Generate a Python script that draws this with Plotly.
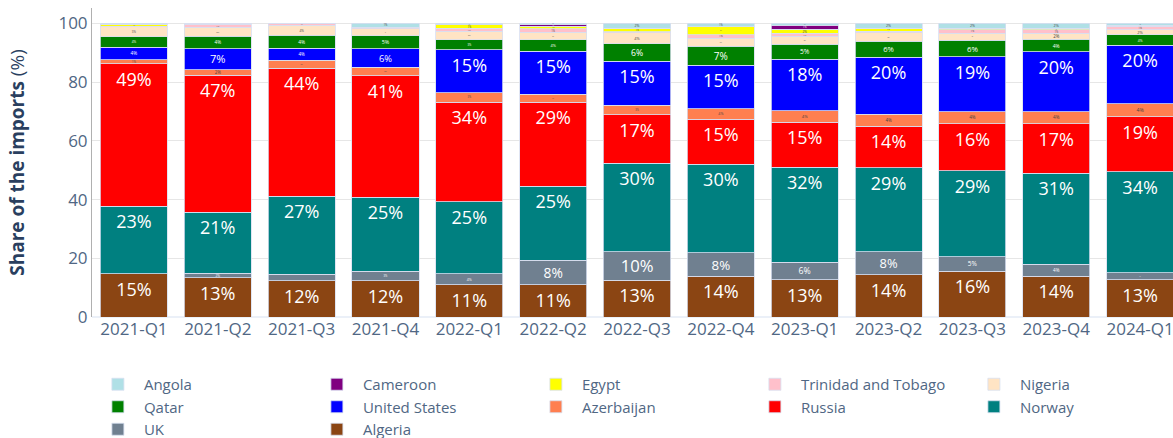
import plotly.graph_objects as go

quarters = ["2021-Q1", "2021-Q2", "2021-Q3", "2021-Q4", "2022-Q1", "2022-Q2", "2022-Q3",
            "2022-Q4", "2023-Q1", "2023-Q2", "2023-Q3", "2023-Q4", "2024-Q1"]

# stacking order: bottom -> top
algeria    = [14.7, 13.4, 12.4, 12.3, 11.0, 11.0, 12.6, 13.8, 12.7, 14.4, 15.6, 13.8, 12.7]
uk         = [0.0, 1.5, 2.1, 3.3, 3.7, 8.3, 9.6, 8.1, 6.0, 7.9, 5.0, 4.1, 2.4]
norway     = [23.0, 20.7, 26.6, 25.2, 24.6, 25.2, 30.1, 30.1, 32.3, 28.6, 29.3, 31.0, 34.4]
russia     = [48.6, 46.7, 43.6, 41.3, 33.9, 28.7, 16.6, 15.3, 15.3, 14.0, 16.0, 17.0, 18.8]
azerbaijan = [1.4, 2.0, 2.8, 2.9, 3.2, 2.6, 3.2, 3.7, 4.0, 4.1, 4.1, 4.1, 4.4]
usa        = [4.2, 7.1, 4.1, 6.3, 14.7, 14.8, 15.0, 14.7, 17.5, 19.5, 18.6, 20.3, 19.8]
qatar      = [3.5, 4.2, 4.3, 4.5, 3.3, 3.8, 6.0, 6.6, 5.1, 5.5, 5.6, 4.3, 3.6]
nigeria    = [3.4, 3.1, 3.5, 2.4, 2.9, 2.6, 3.8, 2.7, 2.7, 2.8, 2.5, 2.0, 1.8]
trinidad   = [0.3, 1.0, 0.6, 0.5, 1.0, 1.2, 0.3, 1.2, 1.0, 0.6, 1.2, 1.2, 1.2]
egypt      = [0.7, 0.3, 0.0, 0.0, 1.2, 0.8, 1.2, 2.6, 1.5, 1.0, 0.5, 0.5, 0.3]
cameroon   = [0.0, 0.0, 0.0, 0.0, 0.0, 0.6, 0.0, 0.0, 1.3, 0.0, 0.0, 0.0, 0.0]
angola     = [0.2, 0.0, 0.0, 1.3, 0.5, 0.4, 1.6, 1.2, 0.6, 1.6, 1.6, 1.7, 0.6]

series = [
    ("Algeria", algeria, "saddlebrown"),
    ("UK", uk, "slategray"),
    ("Norway", norway, "teal"),
    ("Russia", russia, "red"),
    ("Azerbaijan", azerbaijan, "coral"),
    ("United States", usa, "blue"),
    ("Qatar", qatar, "green"),
    ("Nigeria", nigeria, "bisque"),
    ("Trinidad and Tobago", trinidad, "pink"),
    ("Egypt", egypt, "yellow"),
    ("Cameroon", cameroon, "purple"),
    ("Angola", angola, "powderblue"),
]

fig = go.Figure()
for name, vals, color in series:
    fig.add_trace(go.Bar(
        x=quarters, y=vals, name=name,
        marker=dict(color=color, line=dict(color="#d8dff0", width=0.8)),
        texttemplate="%{y:.0f}%", textposition="inside",
        textfont=dict(size=18),
    ))

fig.update_layout(
    template="plotly_white",
    barmode="stack",
    width=1210, height=460,
    margin=dict(l=92, r=28, t=8, b=143),
    font=dict(family="Open Sans, verdana, arial, sans-serif", color="#2a3f5f"),
    legend=dict(orientation="h", traceorder="reversed", itemwidth=42,
                x=-0.0001, y=-0.165, yanchor="top", xanchor="left", entrywidth=162,
                font=dict(size=15, color="#506784")),
    yaxis=dict(title=dict(text="<b>Share of the imports</b> (%)", font=dict(size=19),
                          standoff=28),
               range=[0, 105.26],
               tickfont=dict(size=17, color="#506784"), showline=True,
               linecolor="#b0b0b0", linewidth=1, gridcolor="#e6e6e6"),
    xaxis=dict(tickfont=dict(size=17, color="#506784")),
)

fig.write_html("out.html", config={"displayModeBar": False},
               post_script="document.documentElement.style.overflow='hidden';"
                           "document.body.style.margin='0';")
